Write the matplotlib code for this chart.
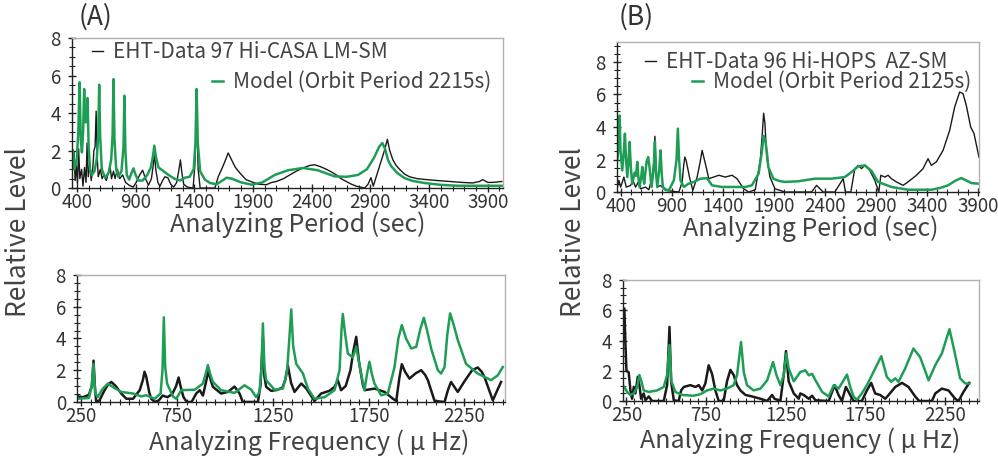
import numpy as np
import matplotlib
matplotlib.use("Agg")
import matplotlib.pyplot as plt
from matplotlib.ticker import MultipleLocator

plt.rcParams['font.family'] = ['Noto Sans CJK JP', 'DejaVu Sans']

GREEN = '#1e9e55'
BLACK = '#1a1a1a'
TXT = '#333333'

# ---- (A) period spectrum, EHT-Data 97 Hi-CASA LM-SM ----
a_per_black_x = [365, 375, 385, 395, 405, 415, 425, 440, 452, 465, 478, 487, 497, 510, 522, 535, 545, 555,
                 564, 572, 582, 600, 615, 630, 650, 668, 683, 695, 712, 725, 745, 765, 790, 815, 845, 880,
                 905, 935, 960, 985, 1010, 1035, 1050, 1060, 1072, 1090, 1108, 1130, 1150, 1175, 1200, 1225,
                 1250, 1270, 1282, 1295, 1310, 1340, 1390, 1405, 1420, 1433, 1450, 1576, 1604, 1640, 1660,
                 1689, 1718, 1750, 1789, 1840, 1902, 1950, 2015, 2060, 2100, 2160, 2214, 2270, 2327, 2380,
                 2426, 2470, 2526, 2570, 2610, 2650, 2695, 2740, 2780, 2851, 2880, 2905, 2925, 2950, 2990,
                 3020, 3045, 3065, 3092, 3120, 3149, 3190, 3234, 3300, 3376, 3470, 3574, 3680, 3772, 3830,
                 3857, 3900, 3942, 4020]
a_per_black_y = [1.0, 1.9, 0.4, 1.2, 0.2, 2.1, 0.5, 1.0, 0.1, 1.1, 0.3, 2.4, 0.6, 1.3, 0.4, 1.0, 2.0, 2.2,
                 4.1, 1.8, 0.6, 1.0, 0.5, 0.7, 0.4, 0.8, 1.15, 0.5, 0.9, 0.5, 1.0, 0.5, 0.7, 0.3, 0.15, 0.05,
                 0.3, 0.7, 0.95, 0.5, 0.15, 0.5, 1.2, 1.85, 1.0, 0.3, 0.1, 0.4, 0.6, 0.55, 0.2, 0.05,
                 0.3, 1.0, 1.5, 0.8, 0.2, 0.05, 0.0, 1.2, 3.9, 1.0, 0.0, 0.0, 0.6, 1.1, 1.4,
                 1.87, 1.5, 1.1, 0.8, 0.45, 0.3, 0.2, 0.18, 0.3, 0.35, 0.5, 0.7, 0.9, 1.07, 1.2,
                 1.24, 1.15, 1.0, 0.85, 0.7, 0.5, 0.35, 0.2, 0.1, 0.0, 0.2, 0.55, 0.1, 0.6, 1.4,
                 2.0, 2.6, 2.0, 1.5, 1.2, 1.0, 0.75, 0.6, 0.5, 0.45, 0.4, 0.35, 0.3, 0.27, 0.35,
                 0.45, 0.3, 0.3, 0.35]

a_per_model_x = [365, 380, 400, 412, 423, 433, 443, 453, 462, 470, 476, 484, 491, 500, 512, 527, 550, 570,
                 582, 590, 598, 612, 641, 670, 692, 704, 712, 720, 735, 754, 780, 797, 805, 813, 825, 845,
                 865, 882, 900, 924, 960, 1000, 1030, 1048, 1060, 1072, 1095, 1137, 1180, 1230, 1279, 1320,
                 1360, 1395, 1410, 1420, 1430, 1450, 1490, 1534, 1590, 1640, 1675, 1720, 1800, 1888, 1980,
                 2086, 2200, 2327, 2450, 2596, 2700, 2795, 2870, 2930, 2975, 3002, 3025, 3050, 3078, 3130,
                 3191, 3260, 3361, 3500, 3645, 3800, 4020]
a_per_model_y = [2.0, 1.0, 1.6, 3.0, 5.64, 2.6, 1.9, 3.0, 5.28, 3.6, 3.5, 3.9, 4.8, 2.2, 1.0, 0.7, 0.9, 1.6,
                 2.8, 5.51, 2.8, 1.0, 0.55, 0.8, 1.5, 2.8, 5.81, 2.6, 1.0, 0.6, 0.9, 2.2, 4.92, 2.0, 0.7, 0.45,
                 0.8, 1.05, 0.7, 0.4, 0.4, 0.7, 1.1, 1.7, 2.26, 1.7, 1.1, 0.9, 0.7, 0.5, 0.4, 0.55,
                 0.6, 1.0, 2.4, 5.28, 2.4, 0.9, 0.45, 0.27, 0.2, 0.4, 0.55, 0.5, 0.3, 0.18, 0.3,
                 0.7, 0.95, 1.07, 0.95, 0.62, 0.6, 0.7, 1.0, 1.6, 2.2, 2.4, 2.1, 1.5, 1.16, 0.8,
                 0.53, 0.38, 0.27, 0.17, 0.12, 0.12, 0.12]

# ---- (A) frequency spectrum ----
a_frq_black_x = [230, 260, 290, 305, 314, 321, 328, 345, 370, 390, 407, 430, 459, 485, 520, 555, 572, 580,
                 589, 605, 615, 633, 655, 675, 700, 725, 745, 758, 770, 783, 800, 826, 850, 868, 885, 900,
                 914, 925, 937, 980, 1015, 1050, 1076, 1093, 1172, 1185, 1198, 1206, 1215, 1241, 1270, 1300,
                 1315, 1328, 1345, 1363, 1398, 1424, 1467, 1502, 1545, 1572, 1589, 1606, 1630, 1655, 1670,
                 1685, 1700, 1720, 1729, 1781, 1833, 1877, 1894, 1910, 1923, 1940, 1963, 1995, 2024, 2045,
                 2059, 2094, 2146, 2165, 2180, 2200, 2215, 2250, 2290, 2319, 2340, 2354, 2398, 2420, 2441]
a_frq_black_y = [0.35, 0.3, 0.45, 1.0, 2.6, 1.0, 0.0, 0.1, 0.7, 1.1, 1.26, 1.0, 0.53, 0.2, 0.2, 0.74, 1.4, 1.9,
                 1.6, 0.6, 0.2, 0.0, 0.1, 0.4, 0.3, 0.5, 1.0, 1.54, 0.9, 0.32, 0.0, 0.0, 0.53, 0.74, 0.4, 1.2,
                 2.0, 1.4, 0.95, 0.53, 0.63, 0.97, 0.53, 0.0, 0.0, 1.0, 4.0, 1.6, 0.95, 0.7, 0.75, 0.9,
                 1.4, 2.3, 1.2, 0.63, 1.16, 0.85, 0.06, 0.53, 0.7, 0.95, 1.37, 0.74, 1.0, 2.0, 3.2,
                 4.1, 2.5, 1.05, 0.74, 0.84, 0.63, 0.2, 0.06, 1.5, 2.38, 1.9, 1.47, 1.8, 2.0, 1.7,
                 1.37, 0.06, 0.0, 0.8, 1.26, 0.9, 0.63, 1.3, 2.0, 2.17, 1.9, 1.58, 0.1, 0.7, 1.26]

a_frq_model_x = [230, 290, 305, 314, 322, 335, 360, 389, 420, 459, 520, 563, 589, 633, 664, 674, 681, 688,
                 698, 728, 746, 772, 842, 885, 900, 911, 922, 937, 980, 1050, 1102, 1137, 1163, 1180, 1190,
                 1198, 1206, 1215, 1259, 1302, 1324, 1336, 1346, 1356, 1372, 1407, 1433, 1467, 1520, 1572,
                 1598, 1608, 1615, 1625, 1641, 1667, 1685, 1707, 1728, 1742, 1754, 1766, 1780, 1815, 1850,
                 1885, 1905, 1923, 1945, 1972, 1998, 2020, 2038, 2055, 2076, 2111, 2128, 2146, 2160, 2175,
                 2195, 2215, 2258, 2319, 2389, 2424, 2450]
a_frq_model_y = [0.2, 0.25, 1.0, 2.4, 0.6, 0.3, 0.8, 1.16, 0.9, 0.63, 0.53, 0.35, 0.42, 0.2, 0.53, 2.0, 5.33, 2.2,
                 1.16, 0.35, 0.2, 0.74, 0.77, 1.16, 1.8, 2.32, 1.8, 1.26, 0.74, 0.57, 1.05, 0.77, 0.3, 0.63, 2.0,
                 4.95, 2.2, 1.37, 0.77, 0.84, 1.9, 4.0, 5.83, 3.5, 2.4, 1.79, 0.84, 0.2, 0.3, 0.74,
                 2.0, 4.5, 5.54, 4.5, 3.05, 2.8, 3.47, 2.0, 0.74, 1.8, 2.53, 1.8, 1.16, 0.42, 0.53,
                 2.2, 4.0, 4.84, 4.0, 3.37, 3.47, 4.6, 5.3, 4.5, 3.37, 2.0, 1.79, 2.2, 4.2, 5.58,
                 4.8, 3.9, 2.4, 1.79, 1.37, 1.68, 2.2]

# ---- (B) period spectrum, EHT-Data 96 Hi-HOPS AZ-SM ----
b_per_black_x = [365, 380, 397, 413, 429, 452, 494, 517, 543, 569, 592, 641, 674, 706, 722, 733, 745, 756,
                 788, 837, 968, 1000, 1013, 1026, 1039, 1072, 1105, 1147, 1175, 1196, 1228, 1261, 1310, 1359,
                 1424, 1489, 1538, 1603, 1652, 1717, 1767, 1785, 1799, 1812, 1829, 1861, 1910, 2008, 2269,
                 2318, 2351, 2383, 2497, 2579, 2601, 2654, 2693, 2726, 2758, 2791, 2840, 2889, 2928, 2948,
                 2987, 3019, 3052, 3101, 3166, 3215, 3297, 3362, 3411, 3443, 3492, 3558, 3623, 3672, 3721,
                 3754, 3786, 3829, 3862, 3910]
b_per_black_y = [0.3, 0.72, 0.3, 0.6, 0.92, 0.3, 0.4, 0.72, 0.3, 0.6, 0.2, 0.3, 0.14, 0.92, 1.8, 3.43, 1.2, 0.31,
                 0.4, 0.1, 0.0, 0.6, 1.5, 2.15, 1.95, 0.92, 0.1, 0.92, 1.8, 2.56, 1.74, 0.82, 0.92, 1.03,
                 0.92, 1.03, 0.82, 0.2, 0.0, 0.14, 2.0, 3.5, 4.85, 4.2, 2.15, 0.92, 0.2, 0.0, 0.0,
                 0.41, 0.2, 0.0, 0.0, 0.82, 0.0, 0.0, 1.44, 1.64, 1.44, 1.64, 1.33, 0.72, 0.0, 1.03,
                 0.92, 1.03, 0.82, 0.62, 0.41, 0.62, 1.03, 1.44, 2.05, 1.64, 1.85, 2.56, 3.79, 5.23, 6.15,
                 6.05, 5.33, 4.0, 3.59, 2.15]

b_per_model_x = [365, 378, 387, 396, 413, 428, 439, 450, 462, 475, 485, 497, 511, 534, 548, 560, 571, 583,
                 600, 609, 618, 628, 651, 667, 680, 700, 722, 733, 744, 756, 776, 788, 800, 811, 840, 870,
                 919, 945, 958, 970, 984, 1017, 1060, 1114, 1179, 1244, 1293, 1391, 1500, 1619, 1684, 1750,
                 1780, 1799, 1815, 1832, 1845, 1894, 1950, 2008, 2138, 2302, 2465, 2595, 2661, 2726, 2791,
                 2856, 2921, 3052, 3215, 3443, 3530, 3607, 3680, 3737, 3790, 3835, 3910]
b_per_model_y = [2.0, 3.0, 4.7, 2.5, 1.33, 2.5, 3.59, 2.0, 0.92, 2.0, 3.08, 1.5, 0.51, 1.2, 1.0, 1.85, 0.9, 0.31,
                 1.0, 1.54, 0.9, 0.51, 1.85, 2.15, 1.54, 0.31, 1.5, 3.1, 1.2, 0.31, 1.4, 2.56, 1.1, 0.31, 0.15, 0.1,
                 0.72, 2.0, 3.9, 2.0, 0.72, 0.31, 0.5, 0.62, 0.82, 0.85, 0.41, 0.31, 0.31, 0.31, 0.41, 1.13,
                 2.4, 3.45, 3.2, 2.4, 1.54, 0.82, 0.68, 0.62, 0.66, 0.82, 0.82, 0.92, 1.23, 1.58, 1.64,
                 1.3, 0.62, 0.31, 0.14, 0.14, 0.25, 0.41, 0.7, 0.86, 0.7, 0.55, 0.51]

# ---- (B) frequency spectrum ----
b_frq_black_x = [237, 243, 250, 264, 275, 285, 296, 306, 321, 331, 342, 358, 369, 390, 411, 484, 505, 520,
                 530, 547, 578, 593, 610, 651, 683, 704, 725, 745, 766, 787, 808, 829, 860, 881, 902, 923,
                 944, 965, 997, 1039, 1091, 1133, 1164, 1179, 1216, 1237, 1251, 1268, 1300, 1331, 1341, 1362,
                 1394, 1415, 1436, 1519, 1556, 1581, 1602, 1627, 1654, 1675, 1727, 1759, 1786, 1811, 1842,
                 1874, 1895, 1937, 1979, 2020, 2062, 2087, 2167, 2188, 2229, 2271, 2313, 2334, 2365, 2401]
b_frq_black_y = [6.1, 3.9, 2.0, 1.9, 0.7, 0.15, 0.93, 0.5, 1.6, 1.05, 0.15, 0.5, 0.05, 0.3, 0.0, 0.0, 1.05, 4.9,
                 1.3, 0.05, 0.0, 0.7, 0.93, 1.05, 0.93, 1.05, 0.7, 1.16, 2.36, 1.8, 0.7, 0.0, 0.0, 1.3, 2.06, 1.72,
                 1.05, 0.7, 0.4, 0.3, 0.15, 0.0, 0.4, 0.15, 0.0, 1.72, 3.3, 1.3, 0.5, 0.15, 0.5, 0.4,
                 0.15, 0.35, 0.05, 0.0, 1.05, 0.4, 0.0, 0.93, 0.4, 0.0, 0.0, 0.7, 1.2, 0.5, 0.4,
                 0.15, 0.4, 0.93, 1.2, 0.93, 0.3, 0.0, 0.0, 0.5, 0.82, 0.7, 0.15, 0.0, 0.6, 1.2]

b_frq_model_x = [237, 254, 275, 296, 317, 331, 344, 358, 390, 442, 484, 505, 520, 532, 557, 599, 672, 714,
                 756, 798, 839, 881, 923, 944, 969, 986, 1006, 1048, 1091, 1133, 1170, 1191, 1216, 1237, 1253,
                 1268, 1300, 1341, 1373, 1394, 1415, 1436, 1478, 1519, 1551, 1581, 1613, 1634, 1654, 1675,
                 1696, 1727, 1759, 1811, 1849, 1884, 1911, 1937, 1957, 1999, 2051, 2093, 2146, 2188, 2229,
                 2277, 2309, 2344, 2376, 2401]
b_frq_model_y = [0.93, 0.6, 0.4, 0.5, 0.93, 1.72, 1.3, 0.7, 0.6, 0.7, 0.93, 1.72, 3.7, 1.3, 0.6, 0.4, 0.35, 0.45,
                 0.7, 0.82, 0.7, 0.82, 1.05, 1.72, 3.9, 1.93, 1.05, 0.7, 0.82, 1.37, 2.58, 1.72, 1.05, 1.72, 3.14,
                 2.16, 1.3, 1.92, 2.03, 1.7, 1.8, 1.37, 0.6, 0.3, 1.05, 0.82, 1.37, 1.75, 0.93, 0.3,
                 0.08, 0.5, 1.05, 2.15, 2.96, 1.6, 1.27, 1.5, 1.27, 2.15, 3.47, 2.9, 1.37, 2.37, 3.14,
                 4.75, 3.25, 1.5, 1.16, 1.16]

per_ticks = [400, 900, 1400, 1900, 2400, 2900, 3400, 3900]
frq_ticks = [250, 750, 1250, 1750, 2250]


def style_axes(ax, xlim, ylim, xticks, xminor, xpad):
    ax.set_xlim(*xlim)
    ax.set_ylim(*ylim)
    ax.set_xticks(xticks)
    ax.set_yticks([0, 2, 4, 6, 8])
    ax.xaxis.set_minor_locator(MultipleLocator(xminor))
    ax.yaxis.set_minor_locator(MultipleLocator(0.5))
    for s in ['top', 'right']:
        ax.spines[s].set_color('#b0b0b0')
        ax.spines[s].set_linewidth(1.0)
    for s in ['left', 'bottom']:
        ax.spines[s].set_color('#222222')
        ax.spines[s].set_linewidth(1.0)
    ax.tick_params(which='major', direction='inout', length=6, width=1, color='#222222',
                   labelsize=13.5, labelcolor=TXT)
    ax.tick_params(axis='x', which='major', pad=xpad)
    ax.tick_params(axis='y', which='major', pad=5)
    ax.tick_params(which='minor', direction='inout', length=4, width=0.8, color='#222222')


fig = plt.figure(figsize=(9.98, 4.62), dpi=100)

ax_at = fig.add_axes([0.0721, 0.593, 0.4319, 0.3247])
ax_ab = fig.add_axes([0.0772, 0.130, 0.4289, 0.2749])
ax_bt = fig.add_axes([0.6182, 0.5844, 0.3627, 0.3247])
ax_bb = fig.add_axes([0.6242, 0.132, 0.3567, 0.2619])

# top panels: period
for ax, bx, by, gx, gy, xlim, ylim, lab1, lab2, pos1, pos2, lx in [
    (ax_at, a_per_black_x, a_per_black_y, a_per_model_x, a_per_model_y, (358, 4030), (0, 8),
     'EHT-Data 97 Hi-CASA LM-SM', 'Model (Orbit Period 2215s)', (0.046, 0.905), (0.972, 0.707), 0.524),
    (ax_bt, b_per_black_x, b_per_black_y, b_per_model_x, b_per_model_y, (361, 3910), (0, 9.23),
     'EHT-Data 96 Hi-HOPS  AZ-SM', 'Model (Orbit Period 2125s)', (0.077, 0.867), (0.978, 0.733), 0.536),
]:
    lb, = ax.plot(bx, by, color=BLACK, lw=1.0)
    lg, = ax.plot(gx, gy, color=GREEN, lw=1.8)
    style_axes(ax, xlim, ylim, per_ticks, 100, 0)
    ax.set_xlabel('Analyzing Period (sec)', fontsize=18, color='#444444')
    ax.xaxis.set_label_coords(lx, -0.155, transform=ax.transAxes)
    ax.xaxis.label.set_va('top')
    leg1 = ax.legend([lb], [lab1], loc='center left', bbox_to_anchor=pos1, frameon=False,
                     handlelength=0.55, handletextpad=0.45, borderpad=0, borderaxespad=0,
                     prop={'size': 15})
    for t in leg1.get_texts():
        t.set_color('#444444')
    ax.add_artist(leg1)
    leg2 = ax.legend([lg], [lab2], loc='center right', bbox_to_anchor=pos2, frameon=False,
                     handlelength=0.55, handletextpad=0.45, borderpad=0, borderaxespad=0,
                     prop={'size': 15})
    for t in leg2.get_texts():
        t.set_color('#444444')

# bottom panels: frequency
for ax, bx, by, gx, gy, lx in [
    (ax_ab, a_frq_black_x, a_frq_black_y, a_frq_model_x, a_frq_model_y, 0.543),
    (ax_bb, b_frq_black_x, b_frq_black_y, b_frq_model_x, b_frq_model_y, 0.497),
]:
    ax.plot(bx, by, color=BLACK, lw=1.8)
    ax.plot(gx, gy, color=GREEN, lw=1.8)
    style_axes(ax, (228, 2462), (0, 8), frq_ticks, 50, 0)
    ax.set_xlabel('Analyzing Frequency ( μ Hz)', fontsize=18, color='#444444')
    ax.xaxis.set_label_coords(lx, -0.215, transform=ax.transAxes)
    ax.xaxis.label.set_va('top')

fig.text(0.019, 0.497, 'Relative Level', rotation=90, ha='center', va='center', fontsize=19, color='#444444')
fig.text(0.575, 0.497, 'Relative Level', rotation=90, ha='center', va='center', fontsize=19, color='#444444')
fig.text(0.079, 0.962, '(A)', ha='left', va='center', fontsize=19, color='#333333')
fig.text(0.620, 0.962, '(B)', ha='left', va='center', fontsize=19, color='#333333')

fig.savefig('out.png', dpi=100)
